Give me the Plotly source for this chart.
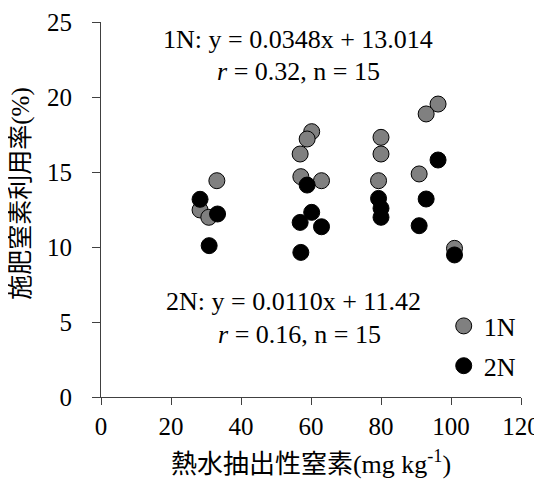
import plotly.graph_objects as go

# Data
x_1n = [33.1, 28.3, 30.8, 60.2, 58.9, 56.9, 57.1, 63.0, 80.0, 80.0, 79.3, 96.3, 92.9, 90.9, 101.0]
y_1n = [14.42, 12.47, 11.98, 17.69, 17.2, 16.2, 14.69, 14.42, 17.31, 16.2, 14.42, 19.53, 18.87, 14.87, 9.91]
x_2n = [28.3, 33.3, 30.9, 58.9, 60.2, 56.9, 63.0, 57.1, 79.3, 80.0, 80.0, 96.3, 92.9, 90.9, 101.0]
y_2n = [13.18, 12.2, 10.09, 14.13, 12.31, 11.64, 11.35, 9.64, 13.24, 12.58, 11.98, 15.8, 13.2, 11.42, 9.47]

x_ticks = [0, 20, 40, 60, 80, 100, 120]
y_ticks = [0, 5, 10, 15, 20, 25]

FONT = "Liberation Serif, Times New Roman, Noto Sans CJK JP"
AXC = "#404040"

fig = go.Figure()
fig.add_trace(go.Scatter(
    x=x_1n, y=y_1n, mode="markers", name="1N", legendgroup="a",
    marker=dict(size=16, color="#808080", line=dict(color="#000000", width=1)),
))
fig.add_trace(go.Scatter(
    x=x_2n, y=y_2n, mode="markers", name="2N", legendgroup="b",
    marker=dict(size=16, color="#000000", line=dict(color="#000000", width=1)),
))

ann_font = dict(family=FONT, size=26, color="#000000")
fig.add_annotation(x=56.3, y=23.85, text="1N: y = 0.0348x + 13.014", showarrow=False, font=ann_font)
fig.add_annotation(x=56.3, y=21.7, text="<i>r</i> = 0.32, n = 15", showarrow=False, font=ann_font)
fig.add_annotation(x=54.9, y=6.4, text="2N: y = 0.0110x + 11.42", showarrow=False, font=ann_font)
fig.add_annotation(x=56.6, y=4.15, text="<i>r</i> = 0.16, n = 15", showarrow=False, font=ann_font)

# y-axis title placed as a rotated annotation (slightly above plot centre, as in the reference)
fig.add_annotation(xref="paper", yref="paper", x=-0.189, y=0.541,
                   xanchor="center", yanchor="middle", textangle=-90,
                   text="施肥窒素利用率(%)", showarrow=False,
                   font=dict(family=FONT, size=25, color="#000000"))

# page body has an 8px margin, so the figure is sized/offset to compensate
fig.update_layout(
    width=534, height=473,
    margin=dict(l=93, r=21, t=14, b=84),
    paper_bgcolor="white", plot_bgcolor="white",
    font=dict(family=FONT, size=25, color="#000000"),
    showlegend=True,
    legend=dict(x=0.816, y=0.252, xanchor="left", yanchor="top",
                bgcolor="rgba(0,0,0,0)", font=dict(family=FONT, size=26),
                tracegroupgap=3),
    xaxis=dict(range=[0, 120], tickvals=x_ticks, showgrid=False, zeroline=False,
               showline=True, linecolor=AXC, linewidth=1, automargin=False,
               ticks="outside", ticklen=7, tickcolor=AXC,
               tickfont=dict(family=FONT, size=25),
               title=dict(text="熱水抽出性窒素(mg kg<sup>-1</sup>)", font=dict(family=FONT, size=26), standoff=15)),
    yaxis=dict(range=[0, 25], tickvals=y_ticks, showgrid=False, zeroline=False,
               showline=True, linecolor=AXC, linewidth=1, automargin=False,
               ticks="outside", ticklen=8, tickcolor=AXC, ticklabelstandoff=15,
               tickfont=dict(family=FONT, size=25)),
)

fig.write_html("out.html")
